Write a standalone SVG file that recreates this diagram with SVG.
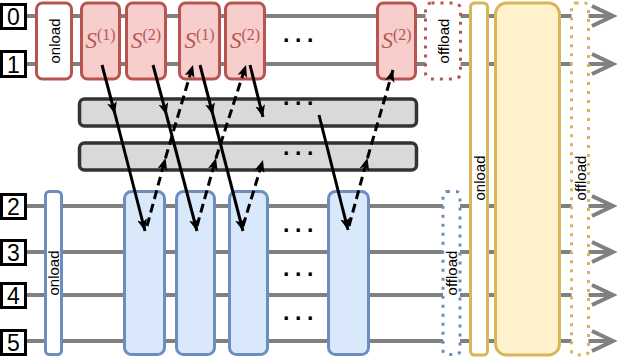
<svg xmlns="http://www.w3.org/2000/svg" width="618" height="359" viewBox="0 0 618 359">
<defs>
<style>
.wire{stroke:#808080;stroke-width:4;fill:none}
.chev{stroke:#808080;stroke-width:4;fill:none;stroke-linejoin:miter}
.lbl{fill:#fff;stroke:#000;stroke-width:3}
.lt{font-family:"Liberation Sans",Arial,sans-serif;font-size:23px;fill:#000;text-anchor:middle}
.red{fill:#f8cecc;stroke:#b85450;stroke-width:3}
.redw{fill:#fff;stroke:#b85450;stroke-width:3}
.redd{fill:#fff;stroke:#b85450;stroke-width:3;stroke-dasharray:3 6}
.blue{fill:#dae8fc;stroke:#6c8ebf;stroke-width:3}
.bluew{fill:#fff;stroke:#6c8ebf;stroke-width:3}
.blued{fill:#fff;stroke:#6c8ebf;stroke-width:3;stroke-dasharray:3 6}
.yel{fill:#fff2cc;stroke:#d6b656;stroke-width:3}
.yelw{fill:#fff;stroke:#d6b656;stroke-width:3}
.yeld{fill:#fff;stroke:#d6b656;stroke-width:3;stroke-dasharray:3 6}
.gray{fill:#d9d9d9;stroke:#333;stroke-width:3.5}
.vt{font-family:"Liberation Sans",Arial,sans-serif;font-size:15px;fill:#000;text-anchor:middle;dominant-baseline:central}
.st{font-family:"Liberation Serif","Times New Roman",serif;fill:#b85450;text-anchor:middle}
.dots{font-family:"Liberation Sans",Arial,sans-serif;font-size:23px;font-weight:bold;fill:#000;text-anchor:middle;dominant-baseline:central;letter-spacing:4.4px}
.ar{stroke:#000;stroke-width:3;fill:none}
.da{stroke-dasharray:9 5}
</style>
<marker id="ah" markerUnits="userSpaceOnUse" markerWidth="13" markerHeight="11" refX="12" refY="5" orient="auto" viewBox="0 0 13 11">
<path d="M0,0 L12,5 L0,10 L3,5 Z" fill="#000"/>
</marker>
</defs>

<g id="wires">
<line class="wire" x1="27" y1="16" x2="613" y2="16"/>
<line class="wire" x1="27" y1="64" x2="613" y2="64"/>
<line class="wire" x1="27" y1="206" x2="613" y2="206"/>
<line class="wire" x1="27" y1="252" x2="613" y2="252"/>
<line class="wire" x1="27" y1="295" x2="613" y2="295"/>
<line class="wire" x1="27" y1="341" x2="613" y2="341"/>
<polyline class="chev" points="592,6 613,16 592,26"/>
<polyline class="chev" points="592,54 613,64 592,74"/>
<polyline class="chev" points="592,196 613,206 592,216"/>
<polyline class="chev" points="592,242 613,252 592,262"/>
<polyline class="chev" points="592,285 613,295 592,305"/>
<polyline class="chev" points="592,331 613,341 592,351"/>
</g>

<g id="label-0"><rect class="lbl" x="1.5" y="4.5" width="24" height="24"/><text class="lt" x="13.5" y="25">0</text></g>
<g id="label-1"><rect class="lbl" x="1.5" y="51.5" width="24" height="25"/><text class="lt" x="13.5" y="72.5">1</text></g>
<g id="label-2"><rect class="lbl" x="1.5" y="194.5" width="24" height="24"/><text class="lt" x="13.5" y="215">2</text></g>
<g id="label-3"><rect class="lbl" x="1.5" y="240.5" width="24" height="24"/><text class="lt" x="13.5" y="261">3</text></g>
<g id="label-4"><rect class="lbl" x="1.5" y="283.5" width="24" height="24"/><text class="lt" x="13.5" y="304">4</text></g>
<g id="label-5"><rect class="lbl" x="1.5" y="330.5" width="24" height="24"/><text class="lt" x="13.5" y="351">5</text></g>

<g id="red-onload"><rect class="redw" x="36.5" y="3" width="35" height="76" rx="6"/><text class="vt" transform="translate(54,41) rotate(-90)">onload</text></g>
<g id="s1a"><rect class="red" x="81.5" y="3" width="38" height="76" rx="6"/><text class="st" x="100.5" y="48"><tspan font-style="italic" font-size="23">S</tspan><tspan font-size="16" dy="-8">(1)</tspan></text></g>
<g id="s2a"><rect class="red" x="126.5" y="3" width="39" height="76" rx="6"/><text class="st" x="146" y="48"><tspan font-style="italic" font-size="23">S</tspan><tspan font-size="16" dy="-8">(2)</tspan></text></g>
<g id="s1b"><rect class="red" x="179.5" y="3" width="40" height="76" rx="6"/><text class="st" x="199.5" y="48"><tspan font-style="italic" font-size="23">S</tspan><tspan font-size="16" dy="-8">(1)</tspan></text></g>
<g id="s2b"><rect class="red" x="225.5" y="3" width="39" height="76" rx="6"/><text class="st" x="245" y="48"><tspan font-style="italic" font-size="23">S</tspan><tspan font-size="16" dy="-8">(2)</tspan></text></g>
<g id="s2c"><rect class="red" x="377.5" y="3" width="38" height="76" rx="6"/><text class="st" x="396.5" y="48"><tspan font-style="italic" font-size="23">S</tspan><tspan font-size="16" dy="-8">(2)</tspan></text></g>
<g id="red-offload"><rect class="redd" x="425.5" y="3" width="35" height="76" rx="6"/><text class="vt" transform="translate(443,41) rotate(-90)">offload</text></g>

<g id="gray-1"><rect class="gray" x="79.5" y="99" width="337" height="27" rx="5"/></g>
<g id="gray-2"><rect class="gray" x="79.5" y="143" width="337" height="27" rx="5"/></g>

<g id="blue-onload"><rect class="bluew" x="45.5" y="191.5" width="16" height="163" rx="4"/><text class="vt" transform="translate(53.5,273) rotate(-90)">onload</text></g>
<g id="blue-1"><rect class="blue" x="124.5" y="191.5" width="40" height="163" rx="7"/></g>
<g id="blue-2"><rect class="blue" x="176.5" y="191.5" width="38" height="163" rx="7"/></g>
<g id="blue-3"><rect class="blue" x="229.5" y="191.5" width="38" height="163" rx="7"/></g>
<g id="blue-4"><rect class="blue" x="328.5" y="191.5" width="40" height="163" rx="7"/></g>
<g id="blue-offload"><rect class="blued" x="443" y="191.5" width="17" height="163" rx="4"/><text class="vt" transform="translate(451.5,273) rotate(-90)">offload</text></g>

<g id="yellow-onload"><rect class="yelw" x="470.5" y="3" width="17" height="352" rx="4"/><text class="vt" transform="translate(479,178) rotate(-90)">onload</text></g>
<g id="yellow-main"><rect class="yel" x="495.5" y="3" width="64" height="352" rx="11"/></g>
<g id="yellow-offload"><rect class="yeld" x="571.5" y="3" width="17" height="352" rx="4"/><text class="vt" transform="translate(580,178) rotate(-90)">offload</text></g>

<g id="dots">
<text class="dots" x="301" y="40">···</text>
<text class="dots" x="301" y="103">···</text>
<text class="dots" x="301" y="153">···</text>
<text class="dots" x="301" y="230">···</text>
<text class="dots" x="301" y="274">···</text>
<text class="dots" x="301" y="318">···</text>
</g>

<g id="connectors">
<line class="ar" x1="102" y1="65" x2="115" y2="114" marker-end="url(#ah)"/>
<line class="ar" x1="115" y1="114" x2="145" y2="231" marker-end="url(#ah)"/>
<line class="ar" x1="153" y1="65" x2="166.5" y2="115" marker-end="url(#ah)"/>
<line class="ar" x1="166.5" y1="115" x2="197" y2="231" marker-end="url(#ah)"/>
<line class="ar" x1="200" y1="65" x2="213" y2="115" marker-end="url(#ah)"/>
<line class="ar" x1="213" y1="115" x2="243" y2="231" marker-end="url(#ah)"/>
<line class="ar" x1="250" y1="65" x2="263" y2="117" marker-end="url(#ah)"/>
<line class="ar" x1="319" y1="115" x2="348" y2="230" marker-end="url(#ah)"/>
<line class="ar da" x1="147" y1="226" x2="165.5" y2="158" marker-end="url(#ah)"/>
<line class="ar da" x1="165.5" y1="158" x2="193" y2="65" marker-end="url(#ah)"/>
<line class="ar da" x1="197" y1="226" x2="216" y2="158" marker-end="url(#ah)"/>
<line class="ar da" x1="216" y1="158" x2="246" y2="65" marker-end="url(#ah)"/>
<line class="ar da" x1="243" y1="226" x2="263" y2="160" marker-end="url(#ah)"/>
<line class="ar da" x1="349" y1="226" x2="367.5" y2="158" marker-end="url(#ah)"/>
<line class="ar da" x1="367.5" y1="158" x2="393" y2="70" marker-end="url(#ah)"/>
</g>
</svg>
